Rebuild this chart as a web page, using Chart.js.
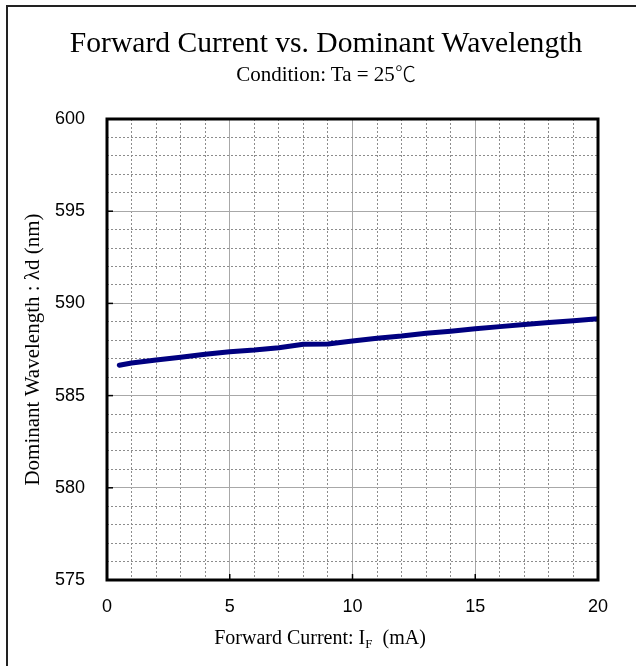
<!DOCTYPE html>
<html>
<head>
<meta charset="utf-8">
<script src="https://cdn.jsdelivr.net/npm/chart.js@4"></script>
<style>
  html, body { margin: 0; padding: 0; background: #fff; overflow: hidden; }
  #wrap { position: relative; width: 636px; height: 666px; }
  #frame { position: absolute; left: 6px; top: 5px; width: 640px; height: 680px; border: 2px solid #222; pointer-events: none; }
  .txt { position: absolute; text-align: center; color: #000; white-space: nowrap;
         font-family: 'Liberation Serif', 'Times New Roman', serif; line-height: 1; }
  #title { left: 0; width: 652px; top: 28px; font-size: 29.6px; }
  #subtitle { left: 0; width: 652px; top: 62px; font-size: 21px; }
  #subtitle .deg { font-family: 'Noto Sans CJK JP', serif; font-weight: 300; }
  #xtitle { left: 0; width: 640px; top: 627px; font-size: 20px; }
  #xtitle sub { font-size: 13px; vertical-align: -4px; line-height: 1; }
</style>
</head>
<body>
<div id="wrap">
  <canvas id="myChart" width="636" height="666"></canvas>
  <div class="txt" id="title">Forward Current vs. Dominant Wavelength</div>
  <div class="txt" id="subtitle">Condition: Ta = 25<span class="deg">&#8451;</span></div>
  <div class="txt" id="xtitle">Forward Current: I<sub>F</sub> &nbsp;(mA)</div>
  <div id="frame"></div>
</div>
<script>
'use strict';

// Data
let currentMA = [0.5, 1, 2, 3, 4, 5, 6, 7, 8, 9, 10, 11, 12, 13, 14, 15, 16, 17, 18, 19, 20];
let wavelengthNM = [586.65, 586.77, 586.93, 587.08, 587.24, 587.38, 587.47, 587.6, 587.78, 587.8, 587.96,
  588.11, 588.23, 588.38, 588.49, 588.62, 588.74, 588.85, 588.97, 589.06, 589.17];
let xRange = [0, 20];
let yRange = [575, 600];
let majorStep = 5;

let points = [];
for (let i = 0; i < currentMA.length; i++) {
  points.push({x: currentMA[i], y: wavelengthNM[i]});
}

function isMajor(value) {
  return Math.abs(value % majorStep) < 1e-6;
}

function gridColor(ctx) {
  return isMajor(ctx.tick.value) ? '#a8a8a8' : '#8c8c8c';
}

function gridDash(ctx) {
  return ctx.tick && isMajor(ctx.tick.value) ? [] : [2, 2];
}

// plot frame plus the little inward ticks at major values
const framePlugin = {
  id: 'frame',
  afterDatasetsDraw(chart) {
    let ctx = chart.ctx;
    let a = chart.chartArea;
    let xs = chart.scales.x;
    let ys = chart.scales.y;
    ctx.save();
    ctx.strokeStyle = '#000';
    ctx.lineWidth = 1.5;
    for (let v = yRange[0] + majorStep; v < yRange[1]; v += majorStep) {
      let py = ys.getPixelForValue(v);
      ctx.beginPath();
      ctx.moveTo(a.left, py);
      ctx.lineTo(a.left + 6, py);
      ctx.stroke();
    }
    for (let v = xRange[0] + majorStep; v < xRange[1]; v += majorStep) {
      let px = xs.getPixelForValue(v);
      ctx.beginPath();
      ctx.moveTo(px, a.bottom);
      ctx.lineTo(px, a.bottom - 6);
      ctx.stroke();
    }
    ctx.lineWidth = 3;
    ctx.strokeRect(a.left, a.top, a.right - a.left, a.bottom - a.top);
    ctx.restore();
  }
};

let ctx = document.getElementById('myChart').getContext('2d');
new Chart(ctx, {
  type: 'line',
  data: {
    datasets: [{
      data: points,
      borderColor: '#000080',
      borderWidth: 5,
      pointRadius: 0,
      tension: 0,
      borderCapStyle: 'round',
      borderJoinStyle: 'round'
    }]
  },
  options: {
    responsive: false,
    animation: false,
    layout: {padding: {left: 8, right: 38, top: 119, bottom: 0}},
    plugins: {
      legend: {display: false},
      tooltip: {enabled: false}
    },
    scales: {
      x: {
        type: 'linear',
        min: xRange[0],
        max: xRange[1],
        afterFit(scale) { scale.height = 86; },
        ticks: {
          stepSize: 1,
          autoSkip: false,
          maxRotation: 0,
          padding: 16,
          color: '#000',
          font: {family: "'Liberation Sans', Arial, sans-serif", size: 18},
          callback: (v) => isMajor(v) ? String(v) : ''
        },
        grid: {color: gridColor, lineWidth: 1, drawTicks: false},
        border: {display: false, dash: gridDash}
      },
      y: {
        type: 'linear',
        min: yRange[0],
        max: yRange[1],
        afterFit(scale) { scale.width = 99; },
        ticks: {
          stepSize: 1,
          autoSkip: false,
          padding: 22,
          color: '#000',
          font: {family: "'Liberation Sans', Arial, sans-serif", size: 18},
          callback: (v) => isMajor(v) ? String(v) : ''
        },
        grid: {color: gridColor, lineWidth: 1, drawTicks: false},
        border: {display: false, dash: gridDash},
        title: {
          display: true,
          text: 'Dominant Wavelength : \u03bbd (nm)',
          color: '#000',
          font: {family: "'Liberation Serif', 'Times New Roman', serif", size: 21, weight: 'normal', lineHeight: 1.2},
          padding: {top: 13, bottom: 0}
        }
      }
    }
  },
  plugins: [framePlugin]
});
</script>
</body>
</html>
